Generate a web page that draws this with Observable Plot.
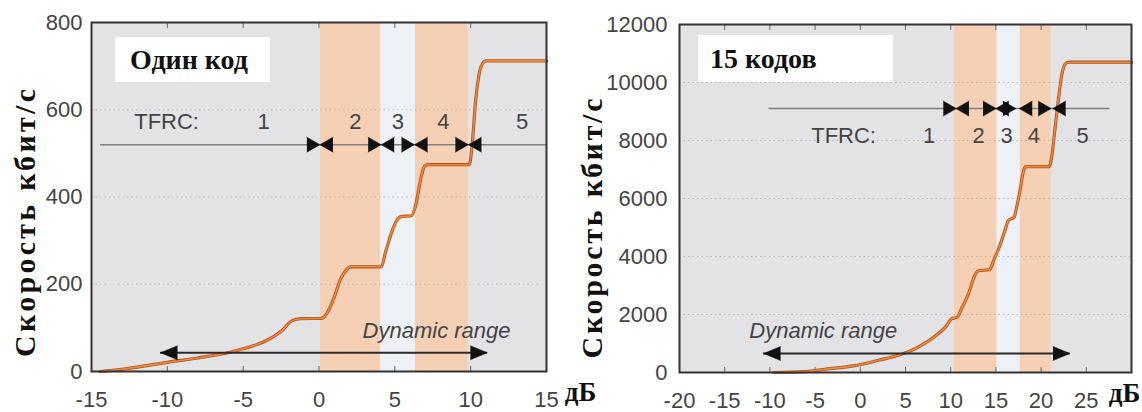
<!DOCTYPE html>
<html><head><meta charset="utf-8">
<script src="https://cdn.jsdelivr.net/npm/d3@7"></script>
<script src="https://cdn.jsdelivr.net/npm/@observablehq/plot@0.6"></script>
<style>
html,body{margin:0;padding:0;background:#fff;}
#wrap{display:flex;width:1142px;height:412px;}
.panel{position:relative;width:571px;height:412px;}
.panel svg{overflow:visible;}
.tbox{position:absolute;z-index:2;background:#fff;font-family:"Liberation Serif","Times New Roman",serif;font-weight:bold;font-size:28px;color:#111;box-sizing:border-box;white-space:nowrap;}
#t1{left:115px;top:37px;width:155px;height:45px;line-height:45px;padding-left:15px;}
#t2{left:127px;top:35px;width:195px;height:47px;line-height:47px;padding-left:12px;}
</style></head><body>
<div id="wrap">
  <div class="panel" id="p1"><div class="tbox" id="t1">Один код</div></div>
  <div class="panel" id="p2"><div class="tbox" id="t2">15 кодов</div></div>
</div>
<script>
const yLabel = "Скорость кбит/с";
const unitLabel = "дБ";
const tfrcLabels = ["TFRC:", "1", "2", "3", "4", "5"];
const dynLabel = "Dynamic range";

// ---------- Panel 1: один код ----------
const p1XDomain = [-15, 15];
const p1YDomain = [0, 800];
const p1XTicks = [-15, -10, -5, 0, 5, 10, 15];
const p1YTicks = [0, 200, 400, 600, 800];
const p1CurveX = [-14.4, -13, -12, -10, -8, -6, -5, -4, -3, -2.4, -1.8, -1.2, 0.2, 0.6, 1.0, 1.4, 1.8, 2.1, 4.1, 4.4, 4.8, 5.1, 5.4, 6.1, 6.4, 6.7, 6.95, 7.2, 9.9, 10.1, 10.3, 10.5, 10.7, 11.0, 15];
const p1CurveY = [0, 5, 10, 21, 31, 43, 52, 63, 80, 95, 116, 121, 122, 138, 170, 210, 233, 240, 240, 275, 320, 345, 355, 357, 385, 440, 470, 474, 474, 520, 610, 670, 700, 712, 712];
const p1BandStart = [0.1, 6.36];
const p1BandEnd = [4.05, 9.85];
const p1LightStart = [4.05];
const p1LightEnd = [6.36];
const p1TfrcY = 520;
const p1TfrcRange = [-14.4, 15];
const p1MarkX = [-0.37, 0.49, 3.67, 4.53, 5.87, 6.73, 9.42, 10.28];
const p1MarkDir = ["right", "left", "right", "left", "right", "left", "right", "left"];
const p1TfrcLabelX = [-10.05, -3.65, 2.4, 5.2, 8.2, 13.4];
const p1TfrcLabelY = 571;
const p1DynRange = [-10.45, 11.1];
const p1DynY = 43;
const p1DynTextX = 7.75;
const p1DynTextY = 92;

// ---------- Panel 2: 15 кодов ----------
const p2XDomain = [-20, 30];
const p2YDomain = [0, 12000];
const p2XTicks = [-20, -15, -10, -5, 0, 5, 10, 15, 20, 25];
const p2YTicks = [0, 2000, 4000, 6000, 8000, 10000, 12000];
const p2CurveX = [-9.6, -6, -3.8, -1, 0.2, 2, 4.3, 6.3, 8.3, 9.5, 10.1, 10.7, 11.2, 12.0, 12.6, 13.0, 14.3, 14.8, 15.4, 16.0, 16.4, 17.0, 17.3, 17.6, 18.1, 18.3, 20.9, 21.2, 21.5, 21.9, 22.3, 22.7, 23.1, 30];
const p2CurveY = [0, 30, 115, 220, 285, 420, 600, 857, 1257, 1600, 1850, 1900, 2200, 2743, 3300, 3500, 3550, 3900, 4343, 4900, 5250, 5350, 5700, 6170, 7000, 7100, 7100, 7500, 8300, 9370, 10286, 10650, 10700, 10700];
const p2BandStart = [10.4, 17.7];
const p2BandEnd = [15.1, 21.1];
const p2LightStart = [15.1];
const p2LightEnd = [17.7];
const p2TfrcY = 9100;
const p2TfrcRange = [-10.1, 27.6];
const p2MarkX = [9.9, 11.3, 14.3, 15.7, 16.5, 18.3, 20.4, 22.0];
const p2MarkDir = ["right", "left", "right", "left", "right", "left", "right", "left"];
const p2TfrcLabelX = [-1.85, 7.6, 13.1, 16.2, 19.2, 24.6];
const p2TfrcLabelY = 8170;
const p2DynRange = [-10.7, 23.2];
const p2DynY = 655;
const p2DynTextX = -4.1;
const p2DynTextY = 1420;

const SANS = "Liberation Sans, Arial, Helvetica, sans-serif";
const SERIF = "Liberation Serif, Times New Roman, serif";
const angle = {right: 90, left: -90};

function panel(c) {
  const curve = c.curveX.map((x, i) => ({x, y: c.curveY[i]}));
  const bands = c.bandStart.map((s, i) => ({s, e: c.bandEnd[i]}));
  const lights = c.lightStart.map((s, i) => ({s, e: c.lightEnd[i]}));
  const marks = c.markX.map((x, i) => ({x, a: angle[c.markDir[i]]}));
  const tl = c.tfrcLabelX.map((x, i) => ({x, t: tfrcLabels[i]}));
  const heads = [{x: c.dynRange[0], a: angle.left}, {x: c.dynRange[1], a: angle.right}];
  const svg = Plot.plot({
    width: 571, height: 412,
    marginLeft: c.ml, marginRight: c.mr, marginTop: c.mt, marginBottom: c.mb,
    style: {fontFamily: SANS, overflow: "visible", background: "transparent"},
    x: {domain: c.xDomain, axis: null},
    y: {domain: c.yDomain, axis: null},
    marks: [
      Plot.frame({fill: "#e3e3e5", stroke: null}),
      Plot.rect(lights, {x1: "s", x2: "e", y1: c.yDomain[0], y2: c.yDomain[1], fill: "#edf0f4"}),
      Plot.rect(bands, {x1: "s", x2: "e", y1: c.yDomain[0], y2: c.yDomain[1], fill: "#f6d0b4"}),
      Plot.gridY(c.yTicks, {stroke: "#9a9a9a", strokeOpacity: 0.6, strokeDasharray: "1.5,3"}),
      Plot.axisX(c.xTicks, {anchor: "bottom", label: null, tickSize: -5, tickFormat: () => "", stroke: "#666"}),
      Plot.axisX(c.xTicks, {anchor: "top", label: null, tickSize: -5, tickFormat: () => "", stroke: "#666"}),
      Plot.ruleY([c.tfrcY], {x1: c.tfrcRange[0], x2: c.tfrcRange[1], stroke: "#808080", strokeWidth: 1.5}),
      Plot.line(curve, {x: "x", y: "y", stroke: "#a9531f", strokeWidth: 3.2, curve: "monotone-x"}),
      Plot.line(curve, {x: "x", y: "y", stroke: "#f28a3c", strokeWidth: 1.6, curve: "monotone-x"}),
      Plot.vector(marks, {x: "x", y: () => c.tfrcY, rotate: "a", shape: "spike", anchor: "middle", length: 13, r: 7.5, fill: "#111", stroke: "#111", strokeWidth: 0.5}),
      Plot.text(tl, {x: "x", y: () => c.tfrcLabelY, text: "t", fontSize: 22, fill: "#444"}),
      Plot.ruleY([c.dynY], {x1: c.dynRange[0], x2: c.dynRange[1], stroke: "#2a2a2a", strokeWidth: 2.2}),
      Plot.vector(heads, {x: "x", y: () => c.dynY, rotate: "a", shape: "spike", anchor: "end", length: 17, r: 7, fill: "#111", stroke: "#111", strokeWidth: 0.5}),
      Plot.text([dynLabel], {x: () => c.dynTextX, y: () => c.dynTextY, text: d => d, fontSize: 22, fontStyle: "italic", fill: "#444"}),
      Plot.frame({stroke: "#333", strokeWidth: 2}),
      Plot.axisX(c.xTicks, {anchor: "bottom", label: null, tickSize: 0, tickPadding: 20, fontSize: 22, color: "#444", tickFormat: d => String(d)}),
      Plot.axisY(c.yTicks, {anchor: "left", label: null, tickSize: 0, tickPadding: c.yPad, fontSize: 22, color: "#444", tickFormat: d => String(d)}),
      Plot.text([yLabel], {frameAnchor: "left", textAnchor: "middle", rotate: -90, dx: c.labelDx, dy: c.labelDy, text: d => d, fontFamily: SERIF, fontWeight: "bold", fontSize: 30, fill: "#111", className: "ylab"}),
      Plot.text([unitLabel], {frameAnchor: "bottom-right", textAnchor: "middle", dx: c.unitDx, dy: 29, text: d => d, fontFamily: SERIF, fontWeight: "bold", fontSize: 27, fill: "#111"})
    ]
  });
  svg.querySelectorAll(".ylab text").forEach(t => {
    t.setAttribute("textLength", c.labelLen);
    t.setAttribute("lengthAdjust", "spacing");
  });
  return svg;
}

const s1 = panel({
  xDomain: p1XDomain, yDomain: p1YDomain, xTicks: p1XTicks, yTicks: p1YTicks,
  curveX: p1CurveX, curveY: p1CurveY, bandStart: p1BandStart, bandEnd: p1BandEnd,
  lightStart: p1LightStart, lightEnd: p1LightEnd, tfrcY: p1TfrcY, tfrcRange: p1TfrcRange,
  markX: p1MarkX, markDir: p1MarkDir, tfrcLabelX: p1TfrcLabelX, tfrcLabelY: p1TfrcLabelY,
  dynRange: p1DynRange, dynY: p1DynY, dynTextX: p1DynTextX, dynTextY: p1DynTextY,
  ml: 91, mr: 25, mt: 22, mb: 41, yPad: 9, labelDx: -66, labelDy: 26, labelLen: 268, unitDx: 34
});
const s2 = panel({
  xDomain: p2XDomain, yDomain: p2YDomain, xTicks: p2XTicks, yTicks: p2YTicks,
  curveX: p2CurveX, curveY: p2CurveY, bandStart: p2BandStart, bandEnd: p2BandEnd,
  lightStart: p2LightStart, lightEnd: p2LightEnd, tfrcY: p2TfrcY, tfrcRange: p2TfrcRange,
  markX: p2MarkX, markDir: p2MarkDir, tfrcLabelX: p2TfrcLabelX, tfrcLabelY: p2TfrcLabelY,
  dynRange: p2DynRange, dynY: p2DynY, dynTextX: p2DynTextX, dynTextY: p2DynTextY,
  ml: 108, mr: 11, mt: 24, mb: 40, yPad: 12, labelDx: -87, labelDy: 30, labelLen: 260, unitDx: -7
});
document.getElementById("p1").prepend(s1);
document.getElementById("p2").prepend(s2);
</script>
</body></html>
